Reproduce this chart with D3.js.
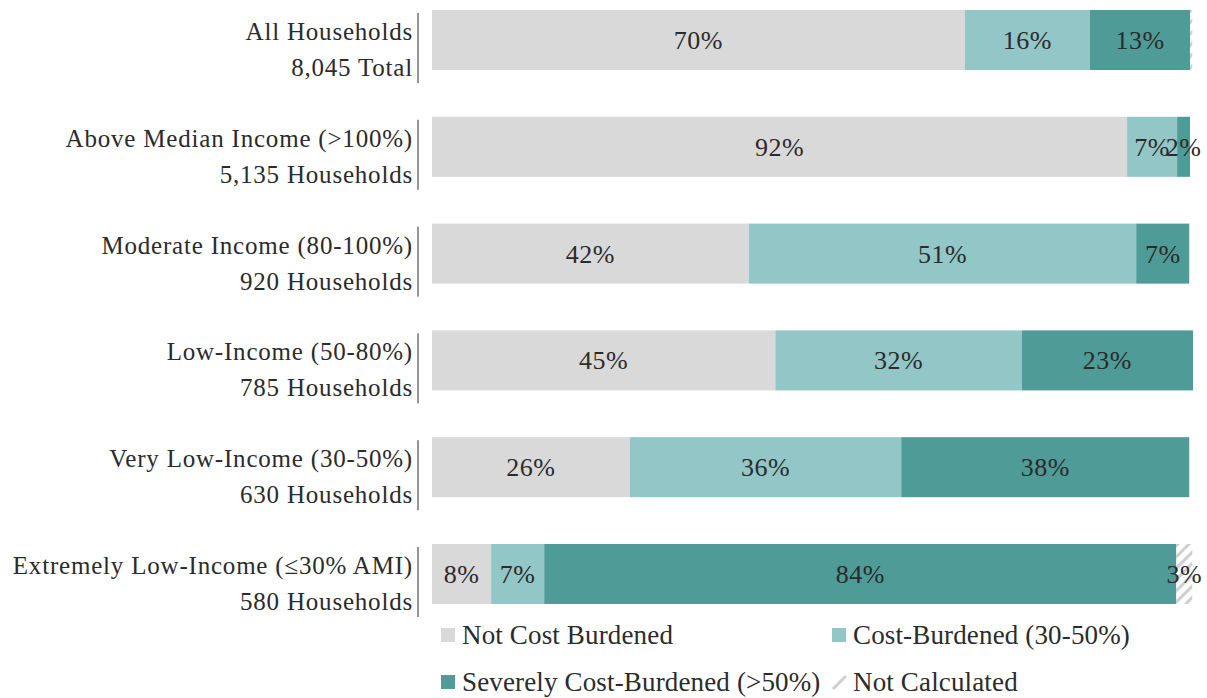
<!DOCTYPE html>
<html lang="en">
<head>
    <meta charset="UTF-8">
    <title>Cost Burden by Income</title>
    <script src="https://d3js.org/d3.v7.min.js"></script>
    <style>
        body { margin: 0; background: #fff; }
        .texto {
            font-family: "Liberation Serif", serif;
            font-size: 25px;
            letter-spacing: 0.8px;
            fill: #2b2b2b;
        }
        .valor {
            font-family: "Liberation Serif", serif;
            font-size: 26px;
            letter-spacing: 0.5px;
            fill: #2b2b2b;
        }
        .leyenda {
            font-family: "Liberation Serif", serif;
            font-size: 27px;
            letter-spacing: 0.15px;
            fill: #2b2b2b;
        }
    </style>
</head>
<body>
<svg width="1207" height="698"></svg>

<script type="application/javascript">

    // categorias (dos lineas cada una)
    const categorias = [
        "All Households",
        "Above Median Income (>100%)",
        "Moderate Income (80-100%)",
        "Low-Income (50-80%)",
        "Very Low-Income (30-50%)",
        "Extremely Low-Income (≤30% AMI)"
    ]
    const subtitulos = [
        "8,045 Total",
        "5,135 Households",
        "920 Households",
        "785 Households",
        "630 Households",
        "580 Households"
    ]

    // series (porcentaje)
    const series = ["Not Cost Burdened", "Cost-Burdened (30-50%)", "Severely Cost-Burdened (>50%)", "Not Calculated"]
    const noBurden = [70.3, 91.7, 41.8, 45.3, 26.1, 7.8]
    const costBurden = [16.5, 6.6, 51.1, 32.5, 35.8, 7.0]
    const severo = [13.2, 1.7, 7.0, 22.6, 38.0, 83.4]
    const noCalc = [0.3, 0, 0, 0, 0, 2.1]

    // etiquetas
    const etiquetas = [
        ["70%", "16%", "13%", ""],
        ["92%", "7%", "2%", ""],
        ["42%", "51%", "7%", ""],
        ["45%", "32%", "23%", ""],
        ["26%", "36%", "38%", ""],
        ["8%", "7%", "84%", "3%"]
    ]

    const colores = ["#d9d9d9", "#93c6c6", "#4f9b98", "url(#rayas)"]

    const svg = d3.select("svg")

    // patron rayado
    const pat = svg.append("defs").append("pattern")
        .attr("id", "rayas")
        .attr("patternUnits", "userSpaceOnUse")
        .attr("width", 8)
        .attr("height", 8)
        .attr("patternTransform", "rotate(45)")
    pat.append("rect").attr("width", 8).attr("height", 8).attr("fill", "#fff")
    pat.append("rect").attr("width", 3).attr("height", 8).attr("fill", "#cfcfcf")

    const x = d3.scaleLinear().domain([0, 100]).range([432, 1190])
    const y = d3.scaleBand().domain(categorias).range([10, 604]).paddingInner(0.438).paddingOuter(0)

    const filas = categorias.map(function (c, i) {
        const vals = [noBurden[i], costBurden[i], severo[i], noCalc[i]]
        let acc = 0
        return vals.map(function (v, j) {
            const seg = {cat: c, x0: acc, x1: acc + v, serie: j, label: etiquetas[i][j]}
            acc += v
            return seg
        })
    })

    const grupos = svg.selectAll("g.fila")
        .data(filas)
        .enter()
        .append("g")
        .attr("class", "fila")

    grupos.selectAll("rect")
        .data(function (d) { return d.filter(s => s.x1 > s.x0) })
        .enter()
        .append("rect")
        .attr("x", d => x(d.x0))
        .attr("width", d => x(d.x1) - x(d.x0))
        .attr("y", d => y(d.cat))
        .attr("height", y.bandwidth())
        .attr("fill", d => colores[d.serie])

    grupos.selectAll("text")
        .data(function (d) { return d.filter(s => s.label !== "") })
        .enter()
        .append("text")
        .attr("class", "valor")
        .attr("text-anchor", "middle")
        .attr("x", d => (x(d.x0) + x(d.x1)) / 2)
        .attr("y", d => y(d.cat) + y.bandwidth() / 2 + 9)
        .text(d => d.label)

    // etiquetas de categoria
    categorias.forEach(function (c, i) {
        const top = y(c)
        svg.append("text")
            .attr("class", "texto")
            .attr("text-anchor", "end")
            .attr("x", 413)
            .attr("y", top + 30)
            .text(c)
        svg.append("text")
            .attr("class", "texto")
            .attr("text-anchor", "end")
            .attr("x", 413)
            .attr("y", top + 66)
            .text(subtitulos[i])

        // linea vertical
        svg.append("line")
            .attr("x1", 418)
            .attr("x2", 418)
            .attr("y1", top + 3)
            .attr("y2", top + y.bandwidth() + 13)
            .attr("stroke", "#2b2b2b")
            .attr("stroke-width", 1)
    })

    // leyenda
    const posLeyenda = [[441, 635], [832, 635], [441, 682], [832, 682]]
    series.forEach(function (s, i) {
        const p = posLeyenda[i]
        if (i < 3) {
            svg.append("rect")
                .attr("x", p[0])
                .attr("y", p[1] - 7)
                .attr("width", 14)
                .attr("height", 14)
                .attr("fill", colores[i])
        } else {
            svg.append("line")
                .attr("x1", p[0] + 1)
                .attr("y1", p[1] + 7)
                .attr("x2", p[0] + 14)
                .attr("y2", p[1] - 6)
                .attr("stroke", "#cfcfcf")
                .attr("stroke-width", 3)
        }
        svg.append("text")
            .attr("class", "leyenda")
            .attr("x", p[0] + 21)
            .attr("y", p[1] + 9)
            .text(s)
    })

</script>
</body>
</html>
